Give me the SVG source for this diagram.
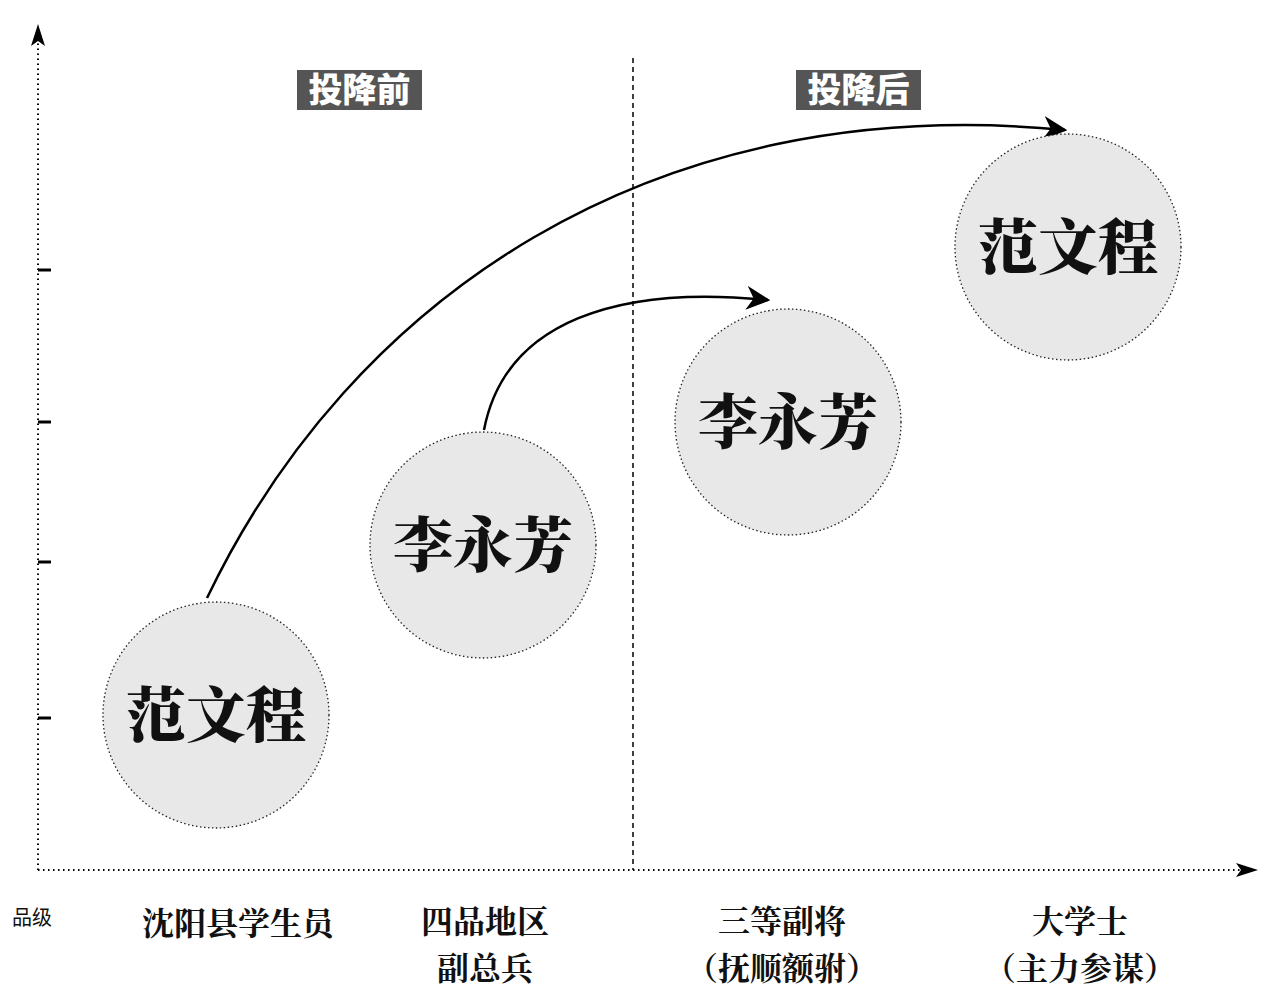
<svg xmlns="http://www.w3.org/2000/svg" width="1280" height="1004" viewBox="0 0 1280 1004">
<style>
.ax{stroke:#000;stroke-width:2;stroke-dasharray:1.5 3.5;fill:none}
.tk{stroke:#000;stroke-width:3}
.c{fill:#e8e8e8;stroke:#222;stroke-width:1.3;stroke-dasharray:1.5 2.5}
.n{font-family:"Noto Serif CJK SC","Noto Sans CJK SC",serif;font-weight:900;font-size:60px;text-anchor:middle;fill:#111}
.l{font-family:"Noto Serif CJK SC","Noto Sans CJK SC",serif;font-weight:700;font-size:32px;text-anchor:middle;fill:#111}
.h{font-family:"Noto Sans CJK SC",sans-serif;font-weight:900;font-size:34px;text-anchor:middle;fill:#fff}
.cn{fill:none;stroke:#000;stroke-width:2.5}
</style>
<defs>
<marker id="ah" viewBox="0 0 10 10" refX="9" refY="5" markerWidth="9" markerHeight="9" markerUnits="userSpaceOnUse" orient="auto"><path d="M0,0 L10,5 L0,10 L3,5 Z" fill="#000"/></marker>
<marker id="ab" viewBox="0 0 10 10" refX="9" refY="5" markerWidth="24" markerHeight="24" markerUnits="userSpaceOnUse" orient="auto"><path d="M0,0 L10,5 L0,10 L3,5 Z" fill="#000"/></marker>
</defs>
<rect width="1280" height="1004" fill="#fff"/>
<g id="axes">
<line class="ax" x1="38" y1="870" x2="38" y2="40"/>
<path d="M38,24 L45,46 L38,41 L31,46 Z" fill="#000"/>
<line class="ax" x1="38" y1="870" x2="1245" y2="870"/>
<path d="M1258,870 L1236,863 L1241,870 L1236,877 Z" fill="#000"/>
<line class="tk" x1="38" y1="270" x2="51" y2="270"/>
<line class="tk" x1="38" y1="422" x2="51" y2="422"/>
<line class="tk" x1="38" y1="562" x2="51" y2="562"/>
<line class="tk" x1="38" y1="718" x2="51" y2="718"/>
<line x1="633" y1="58" x2="633" y2="870" stroke="#000" stroke-width="1.5" stroke-dasharray="5 4"/>
</g>
<g id="headers">
<rect x="297" y="70" width="125" height="40" fill="#555"/>
<text class="h" x="359.5" y="102">投降前</text>
<rect x="796" y="70" width="125" height="40" fill="#555"/>
<text class="h" x="858.5" y="102">投降后</text>
</g>
<g id="connectors">
<path class="cn" d="M207,598 C 350,300 650,90 1065,130" marker-end="url(#ab)"/>
<path class="cn" d="M484,430 C 505,320 620,285 768,300" marker-end="url(#ab)"/>
</g>
<g id="fan1"><circle class="c" cx="216" cy="715" r="113"/><text class="n" x="216" y="737">范文程</text></g>
<g id="li1"><circle class="c" cx="483" cy="545" r="113"/><text class="n" x="483" y="567">李永芳</text></g>
<g id="li2"><circle class="c" cx="788" cy="422" r="113"/><text class="n" x="788" y="444">李永芳</text></g>
<g id="fan2"><circle class="c" cx="1068" cy="247" r="113"/><text class="n" x="1068" y="269">范文程</text></g>
<g id="labels">
<text x="12" y="925" font-family="Noto Sans CJK SC,sans-serif" font-size="20" fill="#111">品级</text>
<text class="l" x="238" y="935">沈阳县学生员</text>
<text class="l" x="485" y="933">四品地区</text>
<text class="l" x="485" y="980">副总兵</text>
<text class="l" x="782" y="933">三等副将</text>
<text class="l" x="782" y="980">（抚顺额驸）</text>
<text class="l" x="1080" y="933">大学士</text>
<text class="l" x="1080" y="980">（主力参谋）</text>
</g>
</svg>
